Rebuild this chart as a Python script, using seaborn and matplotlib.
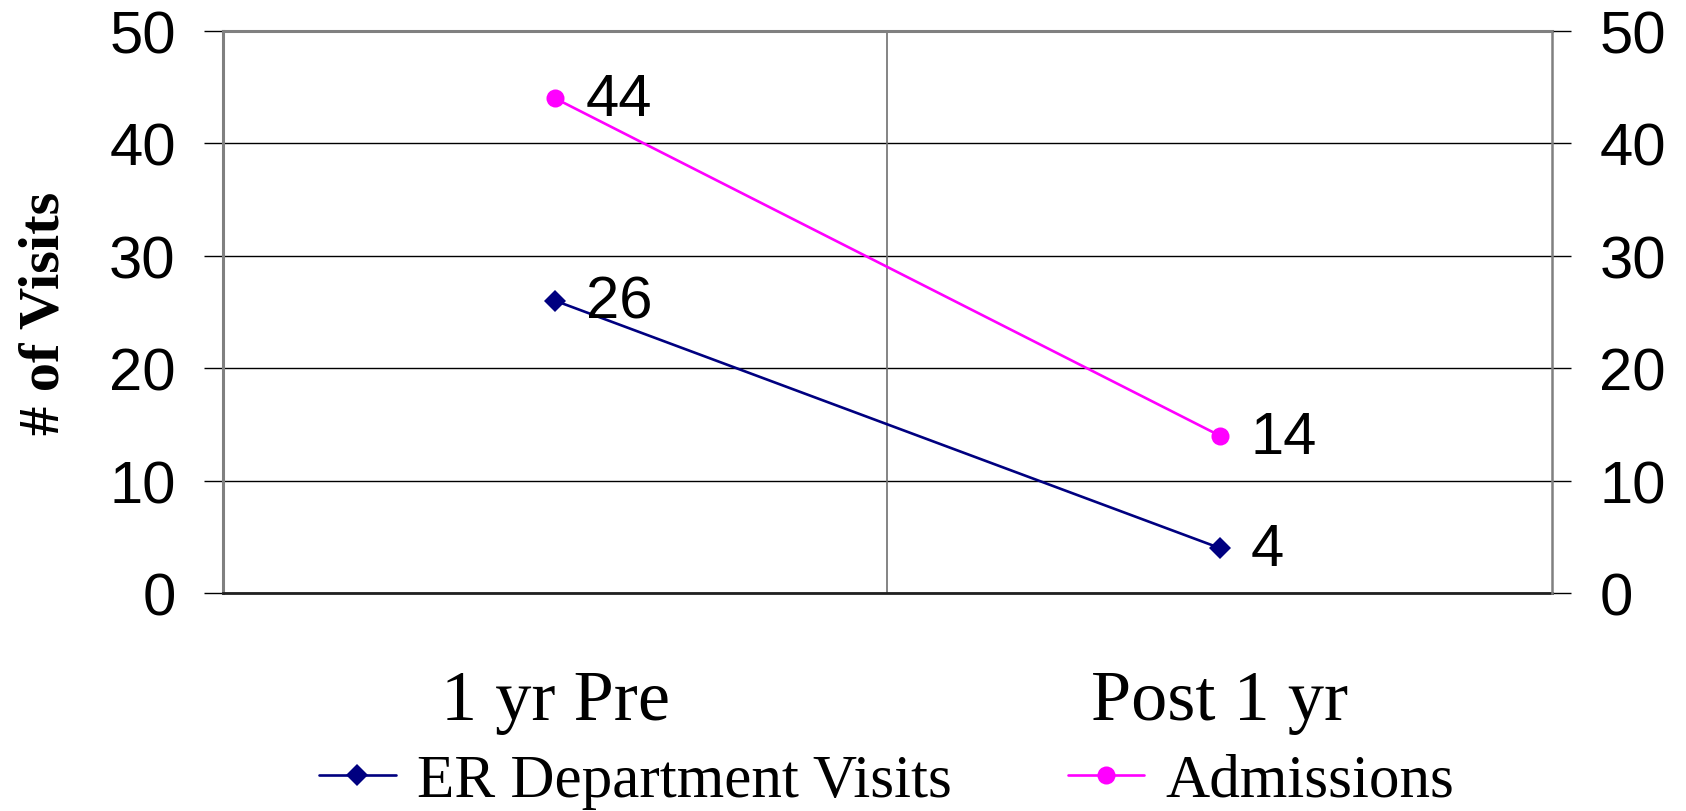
import numpy as np
import pandas as pd
import seaborn as sns
import matplotlib.pyplot as plt
from matplotlib.ticker import FixedLocator

# data
periods = ["1 yr Pre", "Post 1 yr"]
er_visits = [26, 4]
admissions = [44, 14]
series_names = ["ER Department Visits", "Admissions"]
y_ticks = [0, 10, 20, 30, 40, 50]

df = pd.DataFrame({
    "period": periods * 2,
    "visits": er_visits + admissions,
    "series": [series_names[0]] * 2 + [series_names[1]] * 2,
})

sns.set_style("white")
plt.rcParams["font.family"] = ["Liberation Sans", "DejaVu Sans"]
plt.rcParams.update({"text.color": "black", "axes.labelcolor": "black",
                     "xtick.color": "black", "ytick.color": "black"})

fig = plt.figure(figsize=(16.86, 8.12), dpi=100)
ax = fig.add_axes([223 / 1686, 1 - 594 / 812, (1552 - 223) / 1686, (594 - 32) / 812])

colors = {series_names[0]: "#000080", series_names[1]: "#FF00FF"}
sns.lineplot(data=df, x="period", y="visits", hue="series", style="series",
             hue_order=series_names, style_order=series_names,
             palette=colors, markers={series_names[0]: "D", series_names[1]: "o"},
             dashes=False, linewidth=1.9, markeredgewidth=0, legend=False,
             ax=ax, zorder=3)
for line, name in zip(ax.lines, series_names):
    line.set_markersize(11 if name == series_names[0] else 13)

# value labels to the right of each point
for vals in (er_visits, admissions):
    for i, v in enumerate(vals):
        ax.annotate(str(v), (i, v), xytext=(22, -1), textcoords="offset points",
                    ha="left", va="center", fontsize=43, zorder=4)

ax.set_xlim(-0.5, 1.5)
ax.set_ylim(0, 50)
ax.set_yticks(y_ticks)
ax.set_xticks([0, 1])
ax.set_xticklabels(periods, fontfamily="Liberation Serif", fontsize=52)
ax.xaxis.set_minor_locator(FixedLocator([-0.5, 0.5, 1.5]))
ax.tick_params(axis="x", which="major", length=0, pad=55)
ax.tick_params(axis="x", which="minor", length=16, width=1.2, color="#404040", direction="out")
ax.tick_params(axis="y", length=14, width=1, direction="out", labelsize=43, pad=20)
ax.set_xlabel("")
ax.set_ylabel("# of Visits", fontfamily="Liberation Serif", fontweight="bold", fontsize=42)
ax.yaxis.set_label_coords(-0.115, 0.5)

ax.grid(axis="y", color="black", linewidth=1)
ax.axvline(0.5, color="#707070", linewidth=1.2, zorder=1)
ax.set_axisbelow(True)

for side in ("top", "left"):
    ax.spines[side].set_color("#808080")
    ax.spines[side].set_linewidth(2.2)
ax.spines["bottom"].set_color("#202020")
ax.spines["bottom"].set_linewidth(2)
ax.spines["right"].set_visible(False)

ax2 = ax.twinx()
ax2.set_ylim(0, 50)
ax2.set_yticks(y_ticks)
ax2.tick_params(axis="y", length=14, width=1, direction="out", labelsize=43, pad=20)
ax2.spines["right"].set_color("#808080")
ax2.spines["right"].set_linewidth(1.8)
for side in ("top", "left", "bottom"):
    ax2.spines[side].set_visible(False)

fig.legend(handles=ax.lines[:2], labels=series_names, loc="center",
           bbox_to_anchor=(887 / 1686, 30 / 812), ncol=2, frameon=False,
           prop={"family": "Liberation Serif", "size": 44},
           handlelength=1.25, handletextpad=0.35, columnspacing=1.9)

fig.savefig("out.png", dpi=100)
